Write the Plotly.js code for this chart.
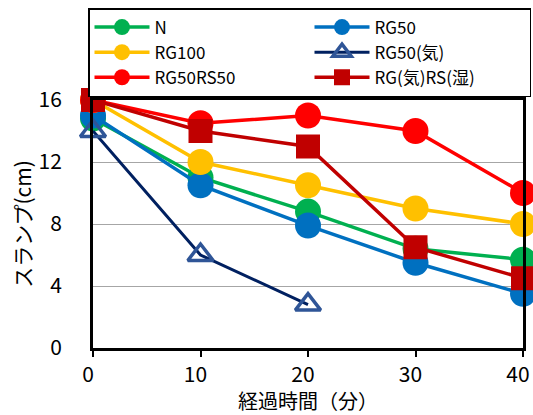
<!DOCTYPE html>
<html>
<head>
<meta charset="utf-8">
<script src="https://cdn.plot.ly/plotly-3.0.1.min.js"></script>
<style>
  html, body { margin: 0; padding: 0; background: #fff; }
  #chart { width: 533px; height: 415px; }
</style>
</head>
<body>
<div id="chart"></div>
<script>
// Elapsed time (minutes)
const minutes = [0, 10, 20, 30, 40];

// Slump (cm) for each mix
const slumpN        = [14.8, 11.0, 8.8, 6.4, 5.7];
const slumpRG50     = [15.0, 10.5, 7.9, 5.5, 3.5];
const slumpRG100    = [16.0, 12.0, 10.5, 9.0, 8.0];
const slumpRG50Air  = [14.0, 6.0, 2.8];
const slumpRG50RS50 = [16.0, 14.5, 15.0, 14.0, 10.0];
const slumpRGRS     = [16.0, 14.0, 13.0, 6.5, 4.5];

const seriesNames = ['N', 'RG50', 'RG100', 'RG50(気)', 'RG50RS50', 'RG(気)RS(湿)'];

const FONT = '"Noto Sans CJK JP", "Noto Sans", sans-serif';

function circleSeries(name, y, color) {
  return {
    type: 'scatter', mode: 'lines+markers', name: name,
    x: minutes.slice(0, y.length), y: y,
    line: { color: color, width: 3.5 },
    marker: { symbol: 'circle', size: 26, color: color },
    cliponaxis: false
  };
}

const traces = [
  circleSeries(seriesNames[0], slumpN, '#00B050'),
  circleSeries(seriesNames[1], slumpRG50, '#0070C0'),
  circleSeries(seriesNames[2], slumpRG100, '#FFC000'),
  {
    type: 'scatter', mode: 'lines+markers', name: seriesNames[3],
    x: minutes.slice(0, slumpRG50Air.length), y: slumpRG50Air,
    line: { color: '#002060', width: 3 },
    marker: { symbol: 'triangle-up-open', size: 22, color: '#2F5597',
              line: { color: '#2F5597', width: 3.5 } },
    cliponaxis: false
  },
  circleSeries(seriesNames[4], slumpRG50RS50, '#FF0000'),
  {
    type: 'scatter', mode: 'lines+markers', name: seriesNames[5],
    x: minutes, y: slumpRGRS,
    line: { color: '#C00000', width: 3.5 },
    marker: { symbol: 'square', size: 24, color: '#C00000' },
    cliponaxis: false
  }
];

const W = 533, H = 415;
const margin = { l: 93, r: 10, t: 99, b: 67 };
const plotW = W - margin.l - margin.r;
const plotH = H - margin.t - margin.b;

const layout = {
  width: W, height: H,
  margin: margin,
  paper_bgcolor: '#fff', plot_bgcolor: '#fff',
  font: { family: FONT, color: '#000', size: 20 },
  showlegend: true,
  legend: {
    orientation: 'h',
    // legend box top-left at (88px, 8px)
    x: (88 - margin.l) / plotW, xanchor: 'left',
    y: 1 + (margin.t - 8) / plotH, yanchor: 'top',
    entrywidth: 150, entrywidthmode: 'pixels',
    itemwidth: 55,
    bgcolor: '#fff', bordercolor: '#000', borderwidth: 1.5,
    font: { family: FONT, size: 17, color: '#000' },
    tracegroupgap: 0, itemsizing: 'trace'
  },
  xaxis: {
    range: [0, 40], dtick: 10, tick0: 0,
    showline: true, linecolor: '#000', linewidth: 3, mirror: true,
    ticks: 'outside', ticklen: 6, tickwidth: 2, tickcolor: '#000',
    showgrid: false, zeroline: false,
    ticklabelstandoff: 0, ticklabelshift: -5, ticklabeloverflow: 'allow',
    tickfont: { family: FONT, size: 21, color: '#000' },
    title: { text: '経過時間（分）', font: { family: FONT, size: 20, color: '#000' }, standoff: 0 }
  },
  yaxis: {
    range: [0, 16], dtick: 4, tick0: 0,
    showline: true, linecolor: '#000', linewidth: 3, mirror: true,
    ticks: '', showgrid: true, gridcolor: '#A6A6A6', gridwidth: 1,
    zeroline: false,
    ticklabelstandoff: 24, ticklabeloverflow: 'allow',
    tickfont: { family: FONT, size: 21, color: '#000' },
    title: { text: 'スランプ(cm)', font: { family: FONT, size: 21, color: '#000' }, standoff: 2 }
  }
};

Plotly.newPlot('chart', traces, layout, { displayModeBar: false, staticPlot: true });
</script>
</body>
</html>
